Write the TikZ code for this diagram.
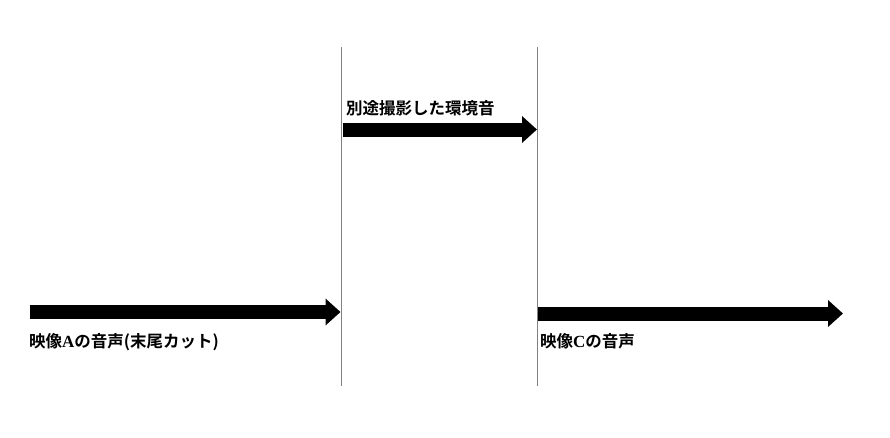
\documentclass[tikz,border=0pt]{standalone}
\usepackage{fontspec}
\newfontfamily\cjk{Noto Sans CJK JP}[BoldFont={Noto Sans CJK JP Bold}]
\newfontfamily\lat{Liberation Serif}
\usetikzlibrary{arrows.meta}
\begin{document}
\begin{tikzpicture}[x=1pt,y=-1pt,
  divider/.style={draw={rgb,255:red,128;green,128;blue,128},line width=1pt},
  fatarrow/.style={line width=14pt,line cap=butt,-{Triangle[length=15pt,width=26pt]}},
  lbl/.style={anchor=base west,inner sep=0pt,font=\cjk\bfseries\fontsize{16.5}{18}\selectfont}]
\useasboundingbox (0,0) rectangle (890,437);
% dividers
\coordinate (d1t) at (341.5,47);
\coordinate (d1b) at (341.5,386);
\coordinate (d2t) at (537.5,47);
\coordinate (d2b) at (537.5,386);
\draw[divider] (d1t) -- (d1b);
\draw[divider] (d2t) -- (d2b);
% arrows
\coordinate (a1s) at (343,129.5);
\coordinate (a1e) at (537,129.5);
\coordinate (a2s) at (30,312);
\coordinate (a2e) at (340.5,312);
\coordinate (a3s) at (538,313.5);
\coordinate (a3e) at (843,313.5);
\draw[fatarrow] (a1s) -- (a1e);
\draw[fatarrow] (a2s) -- (a2e);
\draw[fatarrow] (a3s) -- (a3e);
% labels
\node[lbl] (t1) at (346,114.5) {別途撮影した環境音};
\node[lbl] (t2) at (29,347) {映像{\lat\bfseries\fontsize{17}{18}\selectfont A}の音声(末尾カット)};
\node[lbl] (t3) at (540,347) {映像{\lat\bfseries\fontsize{17}{18}\selectfont C}の音声};
\end{tikzpicture}
\end{document}
